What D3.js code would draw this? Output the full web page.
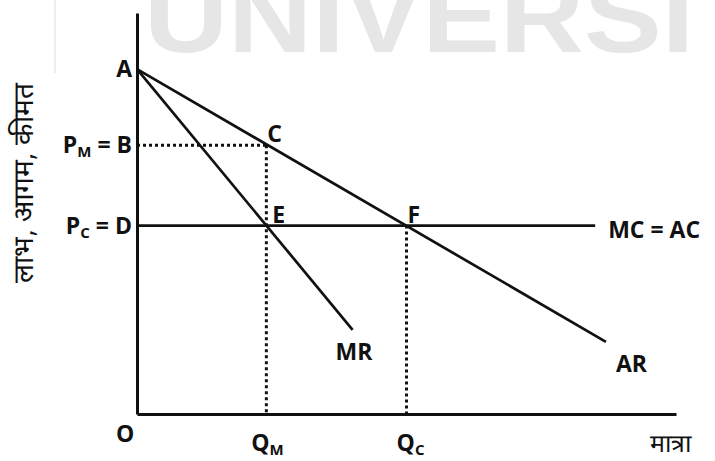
<!DOCTYPE html>
<html>
  <head>
    <meta http-equiv="Content-Type" content="text/html;charset=utf-8"/>
    <title>Monopoly vs competition</title>
    <script src="https://d3js.org/d3.v7.min.js"></script>
  </head>
  <body style="margin:0">
    <div id="content"></div>
    <script type="text/javascript">

        // values in chart units (quantity 0-100, price 0-100)
        const arLine = [[0, 86], [87, 18]]
        const mrLine = [[0, 86], [40, 21]]
        const mcLine = [[0, 47], [85, 47]]
        const dotted = [
            [[0, 67], [24, 67]],
            [[24, 67], [24, 0]],
            [[50, 47], [50, 0]]
        ]
        const pointLabels = [
            { t: 'C', x: 24, y: 67, dx: 1, dy: -3 },
            { t: 'E', x: 24, y: 47, dx: 6, dy: -3 },
            { t: 'F', x: 50, y: 47, dx: 1, dy: -3 },
            { t: 'MR', x: 40, y: 21, dx: -17, dy: 30 },
            { t: 'AR', x: 87, y: 18, dx: 10, dy: 30 },
            { t: 'MC = AC', x: 85, y: 47, dx: 13, dy: 12 },
            { t: 'O', x: 0, y: 0, dx: -21, dy: 28 }
        ]

        const width = 715,
            height = 461

        const svg = d3.select('#content').append('svg')
            .attr('width', width)
            .attr('height', height)
            .style('font-family', 'Open Sans, Liberation Sans, sans-serif')

        const x = d3.scaleLinear().domain([0, 100]).range([137, 676])
        const y = d3.scaleLinear().domain([0, 100]).range([414, 13])

        // faint watermark
        svg.append('line')
            .attr('x1', 55).attr('x2', 55).attr('y1', 0).attr('y2', 73)
            .attr('stroke', '#eeeeee').attr('stroke-width', 2)
        svg.append('text')
            .attr('x', 144).attr('y', 52)
            .attr('font-family', 'Liberation Sans, Arial, sans-serif')
            .attr('font-weight', 'bold')
            .attr('font-size', 104)
            .attr('textLength', 550)
            .attr('lengthAdjust', 'spacingAndGlyphs')
            .attr('fill', '#e6e6e6')
            .text('UNIVERSI')

        // axes
        svg.append('g')
            .attr('transform', `translate(${x(0)},0)`)
            .call(d3.axisLeft(y).tickValues([]).tickSizeOuter(0))
        svg.append('g')
            .attr('transform', `translate(0,${y(0)})`)
            .call(d3.axisBottom(x).tickValues([]).tickSizeOuter(0))
        svg.selectAll('.domain').attr('stroke', '#111').attr('stroke-width', 3)

        const line = d3.line().x(d => x(d[0])).y(d => y(d[1]))

        svg.selectAll('path.curve')
            .data([arLine, mrLine, mcLine])
            .enter()
            .append('path')
            .attr('class', 'curve')
            .attr('d', line)
            .attr('fill', 'none')
            .attr('stroke', '#111')
            .attr('stroke-width', 2.7)

        svg.selectAll('path.dot')
            .data(dotted)
            .enter()
            .append('path')
            .attr('class', 'dot')
            .attr('d', line)
            .attr('fill', 'none')
            .attr('stroke', '#111')
            .attr('stroke-width', 3)
            .attr('stroke-dasharray', '3,3')

        const lbl = svg.append('g')
            .attr('font-weight', 'bold')
            .attr('font-size', 23)
            .attr('fill', '#111')

        lbl.append('text')
            .attr('x', x(0) - 5).attr('y', y(86) + 8)
            .attr('text-anchor', 'end')
            .text('A')

        lbl.selectAll('text.pt')
            .data(pointLabels)
            .enter()
            .append('text')
            .attr('class', 'pt')
            .attr('x', d => x(d.x) + d.dx)
            .attr('y', d => y(d.y) + d.dy)
            .text(d => d.t)

        // price / quantity labels with subscripts
        function subLabel(g, main, sub, rest, px, py, anchor) {
            const t = g.append('text')
                .attr('x', px).attr('y', py)
                .attr('text-anchor', anchor)
            t.append('tspan').text(main)
            t.append('tspan').attr('font-size', 15).attr('dy', 4).text(sub)
            if (rest) t.append('tspan').attr('dy', -4).text(rest)
        }
        subLabel(lbl, 'P', 'M', ' = B', x(0) - 5, y(67) + 8, 'end')
        subLabel(lbl, 'P', 'C', ' = D', x(0) - 5, y(47) + 8, 'end')
        subLabel(lbl, 'Q', 'M', '', x(24) + 1, y(0) + 37, 'middle')
        subLabel(lbl, 'Q', 'C', '', x(50) + 4, y(0) + 37, 'middle')

        // axis titles
        svg.append('text')
            .attr('x', 670).attr('y', 452)
            .attr('text-anchor', 'middle')
            .attr('font-size', 25)
            .attr('fill', '#111')
            .text('मात्रा')
        svg.append('text')
            .attr('transform', 'translate(33,183) rotate(-90)')
            .attr('text-anchor', 'middle')
            .attr('font-size', 28)
            .attr('fill', '#111')
            .text('लाभ, आगम, कीमत')

    </script>
  </body>
</html>
